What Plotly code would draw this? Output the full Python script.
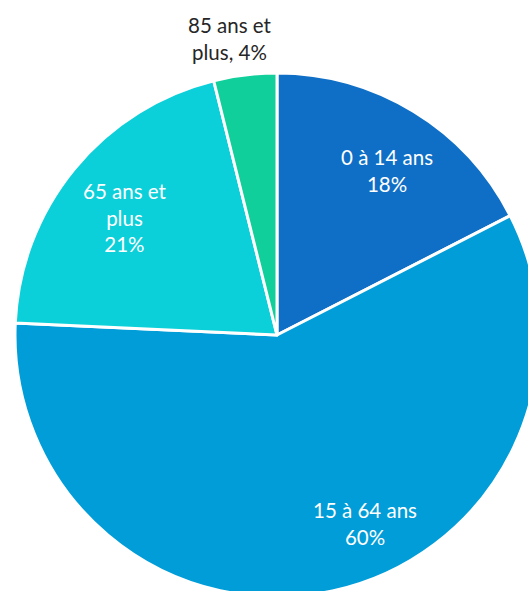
import plotly.graph_objects as go

categories = ["0 à 14 ans", "15 à 64 ans", "65 ans et plus", "85 ans et plus"]
values = [18, 60, 21, 4]
label_text = ["0 à 14 ans<br>18%", "15 à 64 ans<br>60%", "65 ans et<br>plus<br>21%", "85 ans et<br>plus, 4%"]
colors = ["#0F6FC6", "#009DD9", "#0BD0D9", "#10CF9B"]

W, H = 545, 600
cx, cy, r = 277, 335, 262

fig = go.Figure(go.Pie(
    labels=categories,
    values=values,
    sort=False,
    direction="clockwise",
    rotation=0,
    textinfo="none",
    hoverinfo="label+value",
    marker=dict(colors=colors, line=dict(color="white", width=3)),
    domain=dict(x=[(cx - r) / W, (cx + r) / W], y=[(H - cy - r) / H, (H - cy + r) / H]),
    showlegend=False,
))

# label anchor positions in pixels (x from left, y from top)
label_px = [(387, 171), (365, 523), (125, 218), (230, 39)]
label_col = ["white", "white", "white", "#262626"]
for txt, (px, py), col in zip(label_text, label_px, label_col):
    fig.add_annotation(x=px / W, y=1 - py / H, xref="paper", yref="paper",
                       text=txt, showarrow=False, xanchor="center", yanchor="middle",
                       font=dict(family="Lato", size=20.5, color=col), align="center")

fig.update_layout(width=W, height=H, margin=dict(l=0, r=0, t=0, b=0),
                  paper_bgcolor="white", plot_bgcolor="white")

fig.write_html("out.html", config={"displayModeBar": False},
               post_script="document.body.style.margin='0';document.body.style.overflow='hidden';document.documentElement.style.overflow='hidden';")
